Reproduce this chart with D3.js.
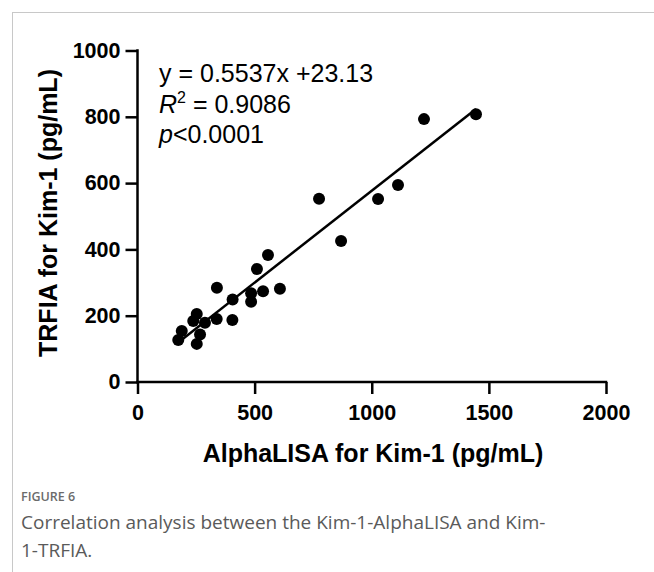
<!DOCTYPE html>
<html>
<head>
<meta charset="utf-8">
<script src="https://cdn.jsdelivr.net/npm/d3@7"></script>
<style>
  body { margin: 0; background: #fff; }
  svg { display: block; }
</style>
</head>
<body>
<div id="chart"></div>
<script>
// AlphaLISA (x) vs TRFIA (y), Kim-1, pg/mL
var alphaLISA = [1445, 1223, 1112, 1027, 775, 869, 557, 510, 339, 608, 536, 485, 485, 406, 253, 338, 405, 238, 288, 189, 174, 267, 253];
var trfia     = [808,  793,  594,  552,  553, 425, 383, 341, 284, 281, 274, 268, 242, 249, 205, 190, 187, 184, 179, 154, 127, 143, 115];
var xTicks = [0, 500, 1000, 1500, 2000];
var yTicks = [0, 200, 400, 600, 800, 1000];
var slope = 0.5537,
    intercept = 23.13;

var width = 654,
    height = 572;

var svg = d3.select("#chart").append("svg")
    .attr("width", width)
    .attr("height", height);

// figure frame (only top/left visible)
svg.append("rect")
    .attr("x", 12.5).attr("y", 12.5)
    .attr("width", 700).attr("height", 600)
    .attr("fill", "none")
    .attr("stroke", "#c8c8c8")
    .attr("stroke-width", 1);

var x = d3.scaleLinear().domain([0, 2000]).range([137.5, 606]);
var y = d3.scaleLinear().domain([0, 1000]).range([382, 50.5]);

var data = alphaLISA.map(function (d, i) {
    return { x: d, y: trfia[i] };
});

var tickFont = "'Liberation Sans', Arial, sans-serif";

var xAxis = svg.append("g")
    .attr("transform", "translate(0," + y(0) + ")")
    .call(d3.axisBottom(x).tickValues(xTicks).tickFormat(d3.format("d"))
        .tickSize(12).tickSizeOuter(0).tickPadding(11));

var yAxis = svg.append("g")
    .attr("transform", "translate(" + x(0) + ",0)")
    .call(d3.axisLeft(y).tickValues(yTicks).tickFormat(d3.format("d"))
        .tickSize(12).tickSizeOuter(0).tickPadding(5));

[xAxis, yAxis].forEach(function (ax) {
    ax.selectAll("path").attr("stroke", "#000").attr("stroke-width", 2.5);
    ax.selectAll("line").attr("stroke", "#000").attr("stroke-width", 2.5);
    ax.selectAll("text")
        .attr("fill", "#000")
        .attr("font-family", tickFont)
        .attr("font-weight", "bold")
        .attr("font-size", "21.5px");
});
// extend domain lines through the corner
xAxis.select(".domain").attr("d", "M" + (x(0) - 1.25) + ",0H" + (x(2000) + 1.25));
yAxis.select(".domain").attr("d", "M0," + (y(0) + 1.25) + "V" + (y(1000) - 1.25));

// axis titles
svg.append("text")
    .text("AlphaLISA for Kim-1 (pg/mL)")
    .attr("x", 373)
    .attr("y", 462)
    .attr("text-anchor", "middle")
    .attr("font-family", tickFont)
    .attr("font-weight", "bold")
    .attr("font-size", "25px");

svg.append("text")
    .text("TRFIA for Kim-1 (pg/mL)")
    .attr("transform", "translate(57,213) rotate(-90)")
    .attr("text-anchor", "middle")
    .attr("font-family", tickFont)
    .attr("font-weight", "bold")
    .attr("font-size", "25px");

// regression line
var xMin = d3.min(alphaLISA), xMax = d3.max(alphaLISA);
svg.append("line")
    .attr("x1", x(xMin)).attr("y1", y(slope * xMin + intercept))
    .attr("x2", x(xMax)).attr("y2", y(slope * xMax + intercept))
    .attr("stroke", "#000")
    .attr("stroke-width", 2.5);

svg.selectAll(".dot")
    .data(data)
    .enter()
    .append("circle")
    .attr("class", "dot")
    .attr("cx", function (d) { return x(d.x); })
    .attr("cy", function (d) { return y(d.y); })
    .attr("r", 6)
    .attr("fill", "#000");

// equation text
var eq = svg.append("g")
    .attr("font-family", tickFont)
    .attr("font-size", "25px")
    .attr("fill", "#000");

eq.append("text").attr("x", 159).attr("y", 82)
    .text("y = " + slope + "x +" + intercept);

var r2 = eq.append("text").attr("x", 159).attr("y", 113);
r2.append("tspan").attr("font-style", "italic").text("R");
r2.append("tspan").attr("font-size", "16px").attr("dy", -10).text("2");
r2.append("tspan").attr("dy", 10).text(" = 0.9086");

var p = eq.append("text").attr("x", 159).attr("y", 143);
p.append("tspan").attr("font-style", "italic").text("p");
p.append("tspan").text("<0.0001");

// caption
svg.append("text")
    .text("FIGURE 6")
    .attr("x", 21).attr("y", 501)
    .attr("font-family", "'Open Sans', sans-serif")
    .attr("font-weight", 600)
    .attr("font-size", "12.5px")
    .attr("fill", "#6b6b6b");

var cap = svg.append("text")
    .attr("font-family", "'Open Sans', sans-serif")
    .attr("font-size", "19px")
    .attr("fill", "#5a5a5a");
cap.append("tspan").attr("x", 21).attr("y", 529)
    .text("Correlation analysis between the Kim-1-AlphaLISA and Kim-");
cap.append("tspan").attr("x", 21).attr("y", 557)
    .text("1-TRFIA.");
</script>
</body>
</html>
